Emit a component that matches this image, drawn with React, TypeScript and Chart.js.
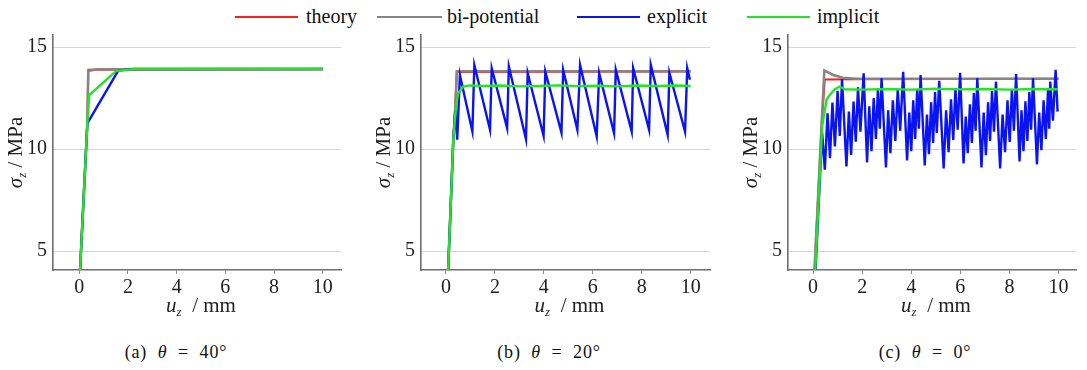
import React, { useEffect, useRef } from 'react';
import { Chart, registerables } from 'chart.js';

Chart.register(...registerables);

type Pt = [number, number];

// ---------- data ----------
const seriesNames = ['theory', 'bi-potential', 'explicit', 'implicit'];
const seriesColors = ['#ff1c1c', '#8a8484', '#0a14f2', '#24e424'];
const xTickValues = [0, 2, 4, 6, 8, 10];
const yTickValues = [5, 10, 15];
const captionLabels = ['(a)', '(b)', '(c)'];
const captionAngles = ['40°', '20°', '0°'];

// (a) θ = 40°
const theoryA: Pt[] = [[0, 3.3], [0.33, 11.26], [0.37, 13.9], [10, 13.92]];
const biA: Pt[] = [[0, 3.3], [0.33, 11.26], [0.37, 13.84], [0.72, 13.92], [10, 13.93]];
const explicitA: Pt[] = [[0, 3.3], [0.33, 11.26], [1.6, 13.85], [2.2, 13.93], [10, 13.93]];
const implicitA: Pt[] = [[0, 3.3], [0.33, 11.26], [0.41, 12.65], [1.52, 13.84], [2.3, 13.93], [10, 13.93]];

// (b) θ = 20°
const theoryB: Pt[] = [[0.06, 3.2], [0.3, 10.46], [0.45, 13.79], [10, 13.81]];
const biB: Pt[] = [[0.06, 3.2], [0.3, 10.46], [0.38, 11.8], [0.44, 13.82], [10, 13.82]];
const explicitB: Pt[] = [
  [0.06, 3.2], [0.3, 10.46], [0.38, 11.9], [0.46, 10.46], [0.57, 13.64],
  [1.08, 10.86], [1.16, 14.13], [1.8, 10.95], [1.87, 13.97], [2.5, 11.03], [2.57, 14.05],
  [3.27, 10.49], [3.34, 13.73], [3.99, 10.65], [4.06, 13.8], [4.72, 10.81], [4.79, 13.89],
  [5.37, 10.95], [5.48, 14.13], [6.16, 10.62], [6.26, 13.73], [6.87, 10.78], [6.94, 13.89],
  [7.59, 10.86], [7.65, 13.97], [8.3, 10.95], [8.37, 14.13], [9.06, 10.7], [9.13, 13.75],
  [9.77, 10.86], [9.86, 13.97], [9.97, 13.4],
];
const implicitB: Pt[] = [
  [0.06, 3.2], [0.3, 10.46], [0.4, 12.0], [0.5, 12.74], [0.71, 13.07], [0.98, 13.13],
  [1.5, 13.1], [2.2, 13.12], [3.0, 13.08], [3.8, 13.1], [4.6, 13.13], [5.4, 13.09],
  [6.2, 13.11], [7.0, 13.08], [7.8, 13.12], [8.6, 13.1], [9.4, 13.12], [10, 13.1],
];

// (c) θ = 0°
const theoryC: Pt[] = [[0.05, 3.8], [0.35, 11.2], [0.48, 13.42], [1.8, 13.43], [10, 13.45]];
const biC: Pt[] = [[0.05, 3.8], [0.35, 11.2], [0.46, 13.86], [0.82, 13.64], [1.22, 13.5], [1.8, 13.45], [10, 13.45]];
const explicitC: Pt[] = [
  [0.08, 3.5], [0.37, 10.8], [0.48, 8.99], [0.59, 11.76], [0.69, 9.56], [0.79, 12.28], [0.89, 10.13], [1.0, 12.86], [1.09, 10.65], [1.18, 13.43],
  [1.36, 9.15], [1.46, 11.84], [1.55, 9.72], [1.65, 12.33], [1.74, 10.37], [1.83, 13.04], [1.93, 10.86], [2.06, 13.72],
  [2.2, 9.35], [2.29, 12.1], [2.38, 9.9], [2.47, 12.5], [2.56, 10.5], [2.64, 12.9], [2.72, 11.0], [2.79, 13.48],
  [2.97, 9.1], [3.06, 11.9], [3.15, 9.8], [3.25, 12.4], [3.35, 10.4], [3.45, 12.95], [3.55, 10.9], [3.67, 13.8],
  [3.83, 9.45], [3.92, 11.8], [4.0, 9.9], [4.08, 12.4], [4.16, 10.5], [4.24, 12.9], [4.31, 11.0], [4.38, 13.64],
  [4.55, 9.2], [4.64, 11.7], [4.72, 9.75], [4.81, 12.3], [4.89, 10.3], [4.97, 12.8], [5.04, 10.8], [5.14, 13.35],
  [5.32, 9.05], [5.42, 11.9], [5.52, 9.85], [5.62, 12.45], [5.71, 10.45], [5.8, 13.0], [5.89, 10.95], [5.99, 13.75],
  [6.13, 9.3], [6.22, 11.6], [6.3, 9.8], [6.39, 12.2], [6.47, 10.3], [6.55, 12.75], [6.62, 10.9], [6.69, 13.48],
  [6.86, 9.1], [6.95, 11.8], [7.04, 9.7], [7.13, 12.3], [7.21, 10.4], [7.29, 12.85], [7.37, 10.85], [7.45, 13.31],
  [7.62, 9.05], [7.72, 11.7], [7.82, 9.85], [7.92, 12.4], [8.01, 10.35], [8.1, 12.95], [8.18, 10.9], [8.27, 13.69],
  [8.41, 9.4], [8.49, 11.9], [8.57, 9.9], [8.65, 12.35], [8.73, 10.4], [8.81, 12.8], [8.88, 10.95], [8.96, 13.48],
  [9.12, 9.25], [9.21, 11.8], [9.3, 9.95], [9.39, 12.4], [9.48, 10.5], [9.57, 12.9], [9.62, 11.0], [9.66, 13.31],
  [9.77, 11.4], [9.88, 13.89], [9.96, 11.84],
];
const implicitC: Pt[] = [
  [0.08, 3.8], [0.37, 11.1], [0.55, 12.42], [0.68, 12.66], [0.89, 12.94], [1.09, 13.07], [1.29, 12.94],
  [2.0, 12.92], [3.0, 12.95], [4.0, 12.92], [5.0, 12.96], [6.0, 12.93], [7.0, 12.95], [8.0, 12.92],
  [9.0, 12.95], [9.96, 12.94],
];

// ---------- layout ----------
const FONT = '"Liberation Serif", "Times New Roman", serif';
const panels = [
  { series: [theoryA, biA, explicitA, implicitA], xMin: -1.08, xMax: 10.75, left: 0, width: 362, padRight: 21 },
  { series: [theoryB, biB, explicitB, implicitB], xMin: -1.02, xMax: 10.79, left: 368, width: 362, padRight: 20 },
  { series: [theoryC, biC, explicitC, implicitC], xMin: -1.02, xMax: 10.71, left: 735, width: 352, padRight: 11 },
];
const legendPos = [
  { x1: 235, x2: 298, tx: 306 },
  { x1: 377, x2: 442, tx: 447 },
  { x1: 577, x2: 640, tx: 647 },
  { x1: 747, x2: 810, tx: 817 },
];
const captionCenters = [176, 549, 925];

type Seg = { t: string; i?: boolean; sub?: boolean };
function drawRich(ctx: CanvasRenderingContext2D, segs: Seg[], cx: number, cy: number, fs: number) {
  const fontOf = (s: Seg) => `${s.i ? 'italic ' : ''}${s.sub ? Math.round(fs * 0.62) : fs}px ${FONT}`;
  let w = 0;
  for (const s of segs) { ctx.font = fontOf(s); w += ctx.measureText(s.t).width; }
  let x = cx - w / 2;
  ctx.textBaseline = 'middle';
  ctx.textAlign = 'left';
  ctx.fillStyle = '#222';
  for (const s of segs) {
    ctx.font = fontOf(s);
    ctx.fillText(s.t, x, cy + (s.sub ? fs * 0.32 : 0));
    x += ctx.measureText(s.t).width;
  }
}

const richTitles = {
  id: 'richTitles',
  afterDraw(chart: any) {
    const { ctx, chartArea } = chart;
    const { left, right, top, bottom } = chartArea;
    ctx.save();
    drawRich(ctx, [{ t: 'u', i: true }, { t: 'z', i: true, sub: true }, { t: '  / mm' }], (left + right) / 2 + 4, bottom + 36, 21);
    ctx.translate(left - 37, (top + bottom) / 2);
    ctx.rotate(-Math.PI / 2);
    drawRich(ctx, [{ t: 'σ', i: true }, { t: 'z', i: true, sub: true }, { t: ' / MPa' }], 0, 0, 21);
    ctx.restore();
  },
};

function Panel({ idx }: { idx: number }) {
  const ref = useRef<HTMLCanvasElement>(null);
  const p = panels[idx];
  useEffect(() => {
    if (!ref.current) return;
    const orders = [4, 3, 2, 1];
    const widths = [2, 2.6, 2.4, 2.4];
    const chart = new Chart(ref.current, {
      type: 'line',
      data: {
        datasets: p.series.map((pts, k) => ({
          label: seriesNames[k],
          data: pts.map(([x, y]) => ({ x, y })),
          borderColor: seriesColors[k],
          backgroundColor: seriesColors[k],
          borderWidth: widths[k],
          pointRadius: 0,
          tension: 0,
          fill: false,
          order: orders[k],
        })),
      },
      options: {
        animation: false,
        responsive: false,
        events: [],
        layout: { padding: { left: 0, right: p.padRight, top: 5, bottom: 0 } },
        plugins: { legend: { display: false }, tooltip: { enabled: false } },
        scales: {
          x: {
            type: 'linear',
            min: p.xMin,
            max: p.xMax,
            afterBuildTicks: (s: any) => { s.ticks = xTickValues.map((v) => ({ value: v })); },
            afterFit: (s: any) => { s.height = 50; s.paddingLeft = 0; s.paddingRight = 0; },
            grid: { drawOnChartArea: false, drawTicks: true, tickLength: 4, color: '#8a8a8a' },
            border: { display: true, color: '#6e6e6e', width: 1.6 },
            ticks: { font: { size: 20, family: FONT }, color: '#222', padding: 2, maxRotation: 0, autoSkip: false },
          },
          y: {
            type: 'linear',
            min: 4.07,
            max: 15.6,
            afterBuildTicks: (s: any) => { s.ticks = yTickValues.map((v) => ({ value: v })); },
            afterFit: (s: any) => { s.width = 53; s.paddingTop = 0; s.paddingBottom = 0; },
            grid: { color: '#d6d6d6', drawTicks: false, lineWidth: 1 },
            border: { display: true, color: '#6e6e6e', width: 1.6 },
            ticks: { font: { size: 20, family: FONT }, color: '#222', padding: 6 },
          },
        },
      },
      plugins: [richTitles],
    } as any);
    return () => chart.destroy();
  }, []);
  return (
    <canvas
      ref={ref}
      width={p.width}
      height={290}
      style={{ position: 'absolute', left: p.left, top: 30, width: p.width, height: 290 }}
    />
  );
}

export default function App() {
  return (
    <div style={{ position: 'absolute', left: 0, top: 0, width: 1087, height: 370, background: '#fff', overflow: 'hidden', fontFamily: FONT }}>
      {legendPos.map((l, k) => (
        <React.Fragment key={k}>
          <div style={{ position: 'absolute', left: l.x1, top: 16, width: l.x2 - l.x1, height: 2, background: seriesColors[k] }} />
          <div style={{ position: 'absolute', left: l.tx, top: 5, fontSize: 20, lineHeight: '22px', color: '#111', whiteSpace: 'nowrap' }}>{seriesNames[k]}</div>
        </React.Fragment>
      ))}
      {panels.map((_, k) => <Panel key={k} idx={k} />)}
      {captionCenters.map((cx, k) => (
        <div key={k} style={{ position: 'absolute', left: cx - 100, width: 200, top: 341, textAlign: 'center', fontSize: 18, lineHeight: '22px', color: '#111', whiteSpace: 'pre', letterSpacing: 0.8 }}>
          {captionLabels[k]}{'  '}<i>θ</i>{'  =  '}{captionAngles[k]}
        </div>
      ))}
    </div>
  );
}
